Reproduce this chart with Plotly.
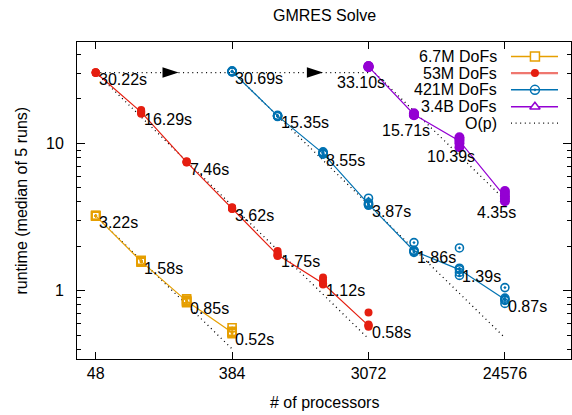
import numpy as np
import plotly.graph_objects as go

# ---------------- data ----------------
procs_67M = [48, 96, 192, 384]
median_67M = [3.22, 1.58, 0.85, 0.52]
runs_67M = [[3.20, 3.21, 3.22, 3.23, 3.25],
            [1.56, 1.57, 1.58, 1.59, 1.61],
            [0.83, 0.84, 0.85, 0.86, 0.88],
            [0.51, 0.52, 0.52, 0.53, 0.56]]

procs_53M = [48, 96, 192, 384, 768, 1536, 3072]
median_53M = [30.22, 16.29, 7.46, 3.62, 1.75, 1.12, 0.58]
runs_53M = [[30.0, 30.1, 30.22, 30.3, 30.4],
            [15.9, 16.1, 16.29, 16.5, 16.8],
            [7.40, 7.43, 7.46, 7.50, 7.55],
            [3.58, 3.60, 3.62, 3.65, 3.68],
            [1.72, 1.74, 1.75, 1.80, 1.86],
            [1.10, 1.12, 1.12, 1.18, 1.23],
            [0.57, 0.58, 0.58, 0.59, 0.71]]

procs_421M = [384, 768, 1536, 3072, 6144, 12288, 24576]
median_421M = [30.69, 15.35, 8.55, 3.87, 1.86, 1.39, 0.87]
runs_421M = [[30.5, 30.6, 30.69, 30.8, 31.0],
             [15.2, 15.3, 15.35, 15.4, 15.5],
             [8.45, 8.50, 8.55, 8.65, 8.75],
             [3.80, 3.85, 3.87, 3.95, 4.24],
             [1.82, 1.85, 1.86, 1.88, 2.12],
             [1.27, 1.33, 1.39, 1.42, 1.95],
             [0.82, 0.86, 0.87, 0.89, 1.05]]

procs_34B = [3072, 6144, 12288, 24576]
median_34B = [33.10, 15.71, 10.39, 4.35]
runs_34B = [[32.8, 33.0, 33.10, 33.3, 33.5],
            [15.5, 15.6, 15.71, 15.8, 16.0],
            [9.4, 10.0, 10.39, 10.7, 11.0],
            [4.05, 4.20, 4.35, 4.55, 4.75]]

x_ticks = [48, 384, 3072, 24576]
x_ticktext = ["48", "384", "3072", "24576"]
y_ticks = [1, 10]
y_ticktext = ["1", "10"]

arrow_tips = [170, 1536]

names = ["6.7M DoFs", "53M DoFs", "421M DoFs", "3.4B DoFs"]
colors = ["#E69F00", "#E51E10", "#0072B2", "#9400D3"]

# ---------------- style ----------------
FONT = "Liberation Sans, Arial, Helvetica, sans-serif"
FS = 16
X_RANGE = [np.log10(36.1), np.log10(67300)]
Y_RANGE = [np.log10(0.344), np.log10(48.7)]
DOT = "1px,3.6px"

fig = go.Figure()

series = [
    (procs_67M, median_67M, runs_67M, "square-open-dot", 8),
    (procs_53M, median_53M, runs_53M, "circle", 8),
    (procs_421M, median_421M, runs_421M, "circle-open-dot", 8),
    (procs_34B, median_34B, runs_34B, "circle", 10),
]

# O(p) ideal scaling lines
for procs, med, runs, sym, size in series:
    xs = [procs[0], procs[-1]]
    ys = [med[0], med[0] * procs[0] / procs[-1]]
    fig.add_trace(go.Scatter(x=xs, y=ys, mode="lines",
                             line=dict(color="black", width=1.3, dash=DOT),
                             showlegend=False, hoverinfo="skip"))

# horizontal weak-scaling dotted line with arrowheads
arrow_y = median_53M[0]
fig.add_trace(go.Scatter(x=[procs_53M[0], procs_34B[0]], y=[arrow_y, arrow_y], mode="lines",
                         line=dict(color="black", width=1.3, dash=DOT),
                         showlegend=False, hoverinfo="skip"))
fig.add_trace(go.Scatter(x=arrow_tips, y=[arrow_y] * len(arrow_tips), mode="markers",
                         marker=dict(symbol="arrow", angle=90, size=17, color="black",
                                     line=dict(width=0)),
                         showlegend=False, hoverinfo="skip"))

# series
for (procs, med, runs, sym, size), name, col in zip(series, names, colors):
    fig.add_trace(go.Scatter(x=procs, y=med, mode="lines",
                             line=dict(color=col, width=1.2),
                             showlegend=False, hoverinfo="skip"))
    rx = [p for p, r in zip(procs, runs) for _ in r]
    ry = [v for r in runs for v in r]
    if "open" in sym:
        mk = dict(symbol=sym, size=size, color=col, line=dict(color=col, width=1.6))
    else:
        mk = dict(symbol=sym, size=size, color=col, line=dict(width=0))
    fig.add_trace(go.Scatter(x=rx, y=ry, mode="markers", marker=mk,
                             showlegend=False, name=name))

# value labels
annotations = []
for i, ((procs, med, runs, sym, size), col) in enumerate(zip(series, colors)):
    for p, v in zip(procs, med):
        if i < 3:
            annotations.append(dict(x=np.log10(p), y=np.log10(v), xref="x", yref="y",
                                    text=f"{v:.2f}s", showarrow=False, xanchor="left",
                                    yanchor="middle", xshift=1, yshift=-7,
                                    font=dict(family=FONT, size=FS, color="black")))
        else:
            annotations.append(dict(x=np.log10(p), y=np.log10(v), xref="x", yref="y",
                                    text=f"{v:.2f}s", showarrow=False, xanchor="center",
                                    yanchor="middle", xshift=-8, yshift=-16,
                                    font=dict(family=FONT, size=FS, color="black")))

# outside part of major y ticks
fig.add_trace(go.Scatter(x=[10 ** X_RANGE[0]] * len(y_ticks), y=y_ticks, mode="markers",
                         marker=dict(symbol="line-ew", size=17, line=dict(color="black", width=1)),
                         cliponaxis=False, showlegend=False, hoverinfo="skip"))

# ---------------- custom legend (text left, sample right) ----------------
leg_rows = [0.954, 0.902, 0.849, 0.796, 0.744]
leg_text_x = 0.854
leg_x0, leg_xm, leg_x1 = 0.8785, 0.927, 0.9737
leg_names = names + ["O(p)"]
leg_markers = [
    dict(symbol="square", size=9, color="white", line=dict(color=colors[0], width=1.5)),
    dict(symbol="circle", size=8, color=colors[1], line=dict(width=0)),
    dict(symbol="circle-open-dot", size=9, color=colors[2], line=dict(color=colors[2], width=1.5)),
    dict(symbol="triangle-up", size=9, color="white", line=dict(color=colors[3], width=1.5)),
]
for k, nm in enumerate(leg_names):
    annotations.append(dict(x=leg_text_x, y=leg_rows[k], xref="paper", yref="paper",
                            text=nm, showarrow=False, xanchor="right", yanchor="middle",
                            font=dict(family=FONT, size=FS, color="black")))
for k, col in enumerate(colors):
    fig.add_trace(go.Scatter(x=[leg_x0, leg_x1], y=[leg_rows[k]] * 2, mode="lines",
                             xaxis="x2", yaxis="y2",
                             line=dict(color=col, width=1.5 if k != 1 else 2.2),
                             opacity=1 if k != 1 else 0.6,
                             showlegend=False, hoverinfo="skip"))
    fig.add_trace(go.Scatter(x=[leg_xm], y=[leg_rows[k]], mode="markers",
                             xaxis="x2", yaxis="y2", marker=leg_markers[k],
                             showlegend=False, hoverinfo="skip"))
fig.add_trace(go.Scatter(x=[leg_x0, leg_x1], y=[leg_rows[4]] * 2, mode="lines",
                         xaxis="x2", yaxis="y2",
                         line=dict(color="black", width=1.3, dash=DOT),
                         showlegend=False, hoverinfo="skip"))

# titles
annotations.append(dict(x=0.5, y=1, xref="paper", yref="paper", text="GMRES Solve",
                        showarrow=False, xanchor="center", yanchor="middle", yshift=27,
                        font=dict(family=FONT, size=FS, color="black")))
annotations.append(dict(x=0.5, y=0, xref="paper", yref="paper", text="# of processors",
                        showarrow=False, xanchor="center", yanchor="middle", yshift=-43,
                        font=dict(family=FONT, size=FS, color="black")))
annotations.append(dict(x=0, y=0.5, xref="paper", yref="paper",
                        text="runtime (median of 5 runs)", textangle=-90,
                        showarrow=False, xanchor="center", yanchor="middle", xshift=-56,
                        font=dict(family=FONT, size=FS, color="black")))

fig.update_layout(
    width=572, height=415,
    margin=dict(l=77, r=1, t=42, b=56),
    paper_bgcolor="white", plot_bgcolor="white",
    showlegend=False,
    font=dict(family=FONT, size=FS, color="black"),
    annotations=annotations,
    xaxis=dict(type="log", range=X_RANGE, tickmode="array", tickvals=x_ticks,
               ticktext=x_ticktext, ticks="inside", ticklen=7, tickcolor="black",
               showline=True, linecolor="black", linewidth=1, mirror="ticks",
               showgrid=False, zeroline=False, tickfont=dict(family=FONT, size=FS)),
    yaxis=dict(type="log", range=Y_RANGE, tickmode="array", tickvals=y_ticks,
               ticktext=y_ticktext, ticks="inside", ticklen=8, tickcolor="black",
               showline=True, linecolor="black", linewidth=1, mirror="ticks",
               showgrid=False, zeroline=False, tickfont=dict(family=FONT, size=FS),
               ticklabelstandoff=9,
               minor=dict(ticks="inside", ticklen=4, tickcolor="black", dtick="D1",
                          showgrid=False)),
    xaxis2=dict(overlaying="x", range=[0, 1], visible=False, fixedrange=True),
    yaxis2=dict(overlaying="y", range=[0, 1], visible=False, fixedrange=True),
)

fig.write_html("out.html", config={"displayModeBar": False},
               post_script="document.body.style.margin='0';")
